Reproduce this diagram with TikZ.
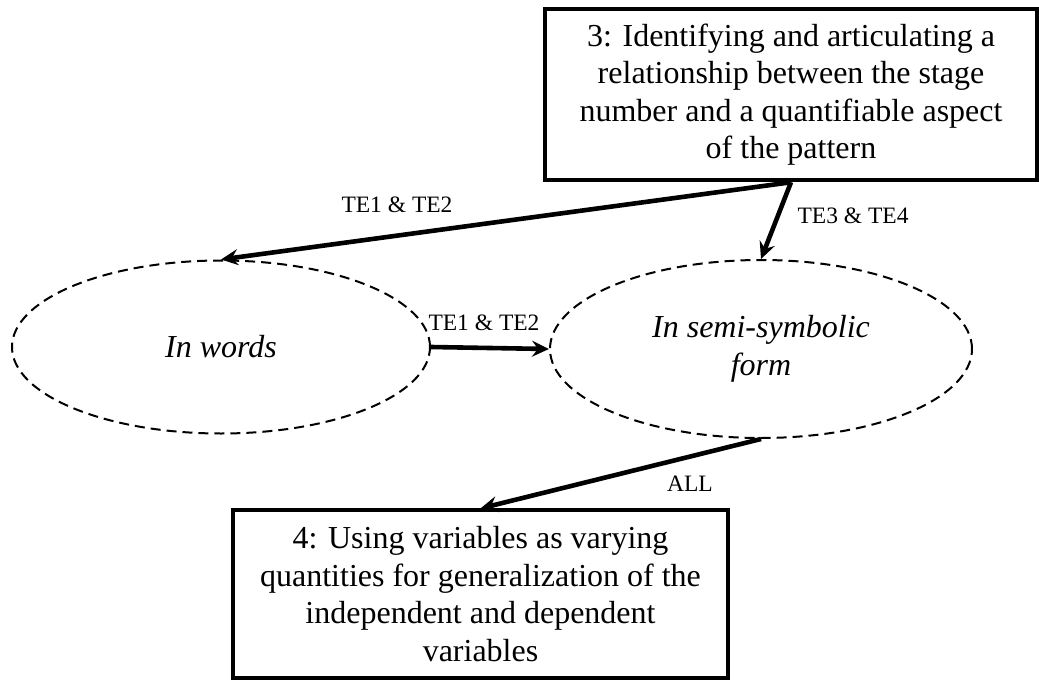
\documentclass[tikz,border=0pt]{standalone}
\usepackage{fontspec}
\setmainfont{Liberation Serif}
\usetikzlibrary{shapes.geometric,arrows.meta}
\begin{document}
\begin{tikzpicture}[x=1pt,y=-1pt,
  stagebox/.style={draw, align=center, inner sep=0pt,
    font=\fontsize{32}{37.5}\selectfont},
  formell/.style={ellipse, draw, dashed, line width=2pt,
    dash pattern=on 10pt off 6pt, inner sep=0pt, align=center,
    font=\fontsize{32}{37.5}\selectfont\itshape},
  conn/.style={line width=4.6pt, -{Stealth[length=17pt,width=16pt,inset=6pt]}},
  lbl/.style={font=\fontsize{23.5}{28}\selectfont, inner sep=0pt}
]
\useasboundingbox (0,0) rectangle (1039,680);

\node[stagebox, line width=4.5pt, minimum width=492pt, minimum height=171pt] (b3) at (791,94.5)
  {3: Identifying and articulating a\\relationship between the stage\\number and a quantifiable aspect\\of the pattern};

\node[stagebox, line width=3.2pt, minimum width=495pt, minimum height=168pt] (b4) at (480.5,594)
  {4: Using variables as varying\\quantities for generalization of the\\independent and dependent\\variables};

\node[formell, minimum width=418pt, minimum height=173pt] (e1) at (221,347) {In words};
\node[formell, minimum width=422pt, minimum height=178pt] (e2) at (761,349) {In semi-symbolic\\form};

\draw[conn] (b3.south) -- (e1.north);
\draw[conn] (b3.south) -- (e2.north);
\draw[conn] (e1.east) -- (e2.west);
\draw[conn] (e2.south) -- (b4.north);

\node[lbl] (l1) at (397,205) {TE1 \& TE2};
\node[lbl] (l2) at (853,216) {TE3 \& TE4};
\node[lbl] (l3) at (484,323) {TE1 \& TE2};
\node[lbl] (l4) at (690,484) {ALL};
\end{tikzpicture}
\end{document}
